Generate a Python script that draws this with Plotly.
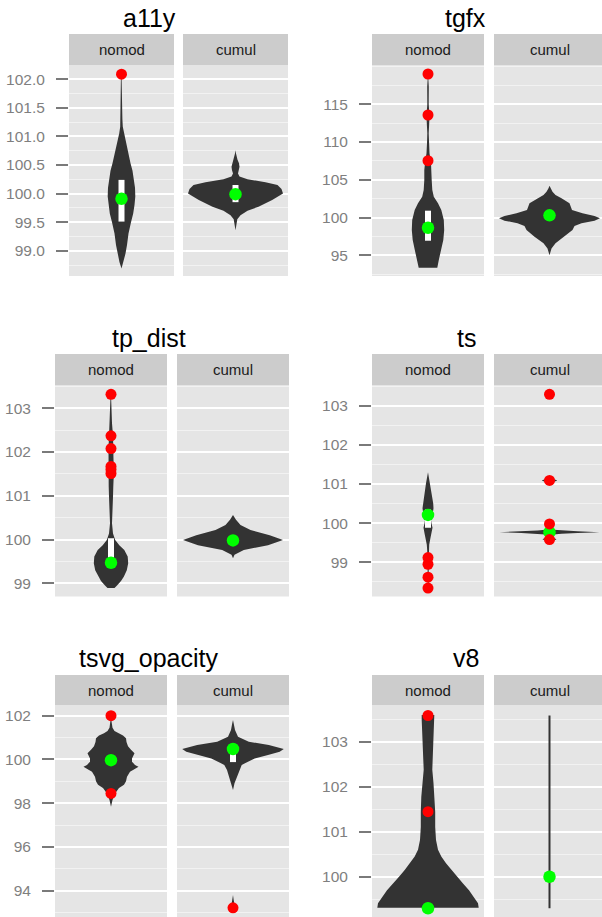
import plotly.graph_objects as go

W, H = 602, 917

# ------------------------------------------------------------------ data
charts = ["a11y", "tgfx", "tp_dist", "ts", "tsvg_opacity", "v8"]
facets = ["nomod", "cumul"]

# violin density profiles: y levels and half-width (density, panel units)
a11y_nomod_y = [98.69, 98.8, 98.95, 99.1, 99.3, 99.5, 99.65, 99.8, 99.95, 100.1, 100.24, 100.4,
                100.53, 100.7, 100.82, 100.95, 101.05, 101.17, 101.3, 101.6, 102.0, 102.09]
a11y_nomod_w = [0, 2, 4, 5.5, 7, 9.5, 11.7, 13, 13.8, 13.5, 12.5, 11,
                9, 7, 5.3, 3.5, 2.3, 1.3, 0.9, 0.7, 0.6, 0]
a11y_cumul_y = [99.36, 99.45, 99.55, 99.62, 99.7, 99.77, 99.89, 100.0, 100.08, 100.15, 100.2,
                100.25, 100.3, 100.35, 100.41, 100.47, 100.53, 100.59, 100.7, 100.76]
a11y_cumul_w = [0, 0.6, 1.8, 5, 12, 23, 36.7, 47.5, 46, 42, 30,
                12, 4, 2.5, 3.5, 4, 3.5, 2, 0.5, 0]

tgfx_nomod_y = [93.36, 93.36, 94.38, 95.7, 97.03, 98.35, 99.68, 101.0, 101.89, 102.77, 103.65,
                104.98, 106.3, 107.19, 108.5, 109.84, 111.16, 112.48, 113.5, 115.0, 117.33, 119.0]
tgfx_nomod_w = [0, 9.3, 10.8, 13.2, 15.3, 16.2, 15.8, 13.3, 10, 5.8, 4.3,
                3.7, 3.7, 3, 1.5, 1, 0.7, 1.2, 1.5, 0.7, 0.8, 0]
tgfx_cumul_y = [95.0, 95.3, 95.9, 96.6, 97.47, 98.35, 98.88, 99.23, 99.59, 99.9, 100.2, 100.56,
                101.0, 101.89, 102.55, 102.99, 103.4, 103.87, 104.2]
tgfx_cumul_w = [0, 0.5, 2, 6, 15, 23, 25, 32, 45, 50.5, 45, 33,
                22.5, 20, 12, 6, 3, 1, 0]

tp_dist_nomod_y = [98.89, 98.89, 98.95, 99.05, 99.15, 99.3, 99.46, 99.61, 99.76, 99.87, 99.99,
                   100.14, 100.37, 100.68, 100.98, 101.21, 101.4, 101.6, 101.82, 102.05, 102.37,
                   102.66, 102.96, 103.27, 103.32]
tp_dist_nomod_w = [0, 3.5, 6, 10, 12.8, 15.8, 17.2, 16.7, 13.3, 8.3, 4.2,
                   2, 1, 1.2, 2, 2.3, 2.8, 3, 2.5, 2.5, 2,
                   1, 0.8, 0.5, 0]
tp_dist_cumul_y = [99.57, 99.65, 99.76, 99.87, 99.99, 100.1, 100.22, 100.33, 100.45, 100.56]
tp_dist_cumul_w = [0, 1.5, 10.8, 35, 50, 36.7, 17.5, 7.5, 3, 0]

ts_nomod_y = [98.3, 98.5, 99.0, 99.3, 99.45, 99.6, 99.74, 99.88, 100.0, 100.08, 100.2, 100.38,
              100.51, 100.76, 101.02, 101.3]
ts_nomod_w = [0, 0.7, 0.7, 0.8, 1.2, 2.3, 3.5, 4.5, 3.5, 3, 4.5, 5.5,
              5.2, 3.5, 2, 0]
ts_cumul_y = [99.48, 99.55, 99.59, 99.63, 99.67, 99.71, 99.73, 99.75, 99.77, 99.79, 99.81, 99.83,
              99.86, 99.93, 99.97, 100.01, 100.08, 101.0, 101.05, 101.09, 101.13, 101.18,
              103.2, 103.29, 103.38]
ts_cumul_w = [0, 4, 7, 4, 1, 4, 12, 28, 50, 28, 12, 4,
              1, 0.5, 3, 0.5, 0, 0, 4, 7.8, 4, 0,
              0, 1.5, 0]

tsvg_opacity_nomod_y = [97.84, 98.15, 98.45, 98.7, 98.85, 99.0, 99.21, 99.44, 99.6, 99.67, 99.75,
                        99.9, 100.05, 100.28, 100.45, 100.6, 100.8, 100.97, 101.1, 101.2, 101.3,
                        101.45, 101.73, 101.88]
tsvg_opacity_nomod_w = [0, 1.5, 4, 8, 13, 15, 16, 19, 25, 27.5, 24,
                        21, 21, 23.5, 20, 17, 15.5, 15, 12, 7, 3.5,
                        1.5, 0.7, 0]
tsvg_opacity_cumul_y = [93.0, 93.1, 93.22, 93.4, 93.6, 93.8, 98.6, 98.91, 99.21, 99.52, 99.75,
                        99.9, 100.05, 100.2, 100.35, 100.48, 100.66, 100.81, 101.04, 101.35,
                        101.65, 101.8]
tsvg_opacity_cumul_w = [0, 1.5, 2, 1, 0.6, 0, 0, 1.5, 4, 6, 8.7,
                        15, 21.7, 35, 46.7, 50.8, 35.8, 15.8, 5, 2,
                        0.8, 0]

v8_nomod_y = [99.31, 99.31, 99.41, 99.55, 99.7, 99.85, 100.0, 100.15, 100.3, 100.45, 100.6,
              100.82, 101.11, 101.45, 101.78, 102.08, 102.38, 102.67, 102.97, 103.27, 103.49,
              103.6, 103.6]
v8_nomod_w = [0, 50.7, 50, 45.7, 41, 35, 29, 23.3, 18, 13.3, 10,
              8, 7.2, 7.2, 6.7, 5.5, 4.3, 4.7, 5.3, 5.8, 6.3,
              6.3, 0]
v8_cumul_y = [99.3, 103.59]
v8_cumul_w = [1, 1]

# medians (green), boxes (q1, q3), outliers (red)
medians = {
    "a11y": [99.91, 99.99], "tgfx": [98.65, 100.29], "tp_dist": [99.47, 99.98],
    "ts": [100.21, 99.77], "tsvg_opacity": [99.97, 100.48], "v8": [99.30, 100.0],
}
box_q1 = {
    "a11y": [99.51, 99.85], "tgfx": [96.93, None], "tp_dist": [99.35, None],
    "ts": [99.88, None], "tsvg_opacity": [None, 99.88], "v8": [None, None],
}
box_q3 = {
    "a11y": [100.24, 100.15], "tgfx": [100.91, None], "tp_dist": [100.03, None],
    "ts": [100.35, None], "tsvg_opacity": [None, 100.55], "v8": [None, None],
}
outliers_nomod = {
    "a11y": [102.09], "tgfx": [119.01, 113.58, 107.53],
    "tp_dist": [103.32, 102.37, 102.08, 101.67, 101.6, 101.51],
    "ts": [99.12, 98.95, 98.62, 98.34], "tsvg_opacity": [102.0, 98.45], "v8": [103.59, 101.45],
}
outliers_cumul = {
    "a11y": [], "tgfx": [], "tp_dist": [],
    "ts": [103.29, 101.09, 99.98, 99.58], "tsvg_opacity": [93.22], "v8": [],
}

y_ticks = {
    "a11y": [99.0, 99.5, 100.0, 100.5, 101.0, 101.5, 102.0],
    "tgfx": [95, 100, 105, 110, 115],
    "tp_dist": [99, 100, 101, 102, 103],
    "ts": [99, 100, 101, 102, 103],
    "tsvg_opacity": [94, 96, 98, 100, 102],
    "v8": [100, 101, 102, 103],
}
y_tick_text = {
    "a11y": ["99.0", "99.5", "100.0", "100.5", "101.0", "101.5", "102.0"],
    "tgfx": ["95", "100", "105", "110", "115"],
    "tp_dist": ["99", "100", "101", "102", "103"],
    "ts": ["99", "100", "101", "102", "103"],
    "tsvg_opacity": ["94", "96", "98", "100", "102"],
    "v8": ["100", "101", "102", "103"],
}

profiles = {
    ("a11y", 0): (a11y_nomod_y, a11y_nomod_w), ("a11y", 1): (a11y_cumul_y, a11y_cumul_w),
    ("tgfx", 0): (tgfx_nomod_y, tgfx_nomod_w), ("tgfx", 1): (tgfx_cumul_y, tgfx_cumul_w),
    ("tp_dist", 0): (tp_dist_nomod_y, tp_dist_nomod_w), ("tp_dist", 1): (tp_dist_cumul_y, tp_dist_cumul_w),
    ("ts", 0): (ts_nomod_y, ts_nomod_w), ("ts", 1): (ts_cumul_y, ts_cumul_w),
    ("tsvg_opacity", 0): (tsvg_opacity_nomod_y, tsvg_opacity_nomod_w),
    ("tsvg_opacity", 1): (tsvg_opacity_cumul_y, tsvg_opacity_cumul_w),
    ("v8", 0): (v8_nomod_y, v8_nomod_w), ("v8", 1): (v8_cumul_y, v8_cumul_w),
}

# ------------------------------------------------------------------ layout geometry (px)
y_ranges = {
    "a11y": [98.558, 102.25], "tgfx": [92.26, 120.2], "tp_dist": [98.698, 103.533],
    "ts": [98.126, 103.529], "tsvg_opacity": [92.80, 102.49], "v8": [99.105, 103.824],
}
minor_dtick = {"a11y": 0.25, "tgfx": 2.5, "tp_dist": 0.5, "ts": 0.5, "tsvg_opacity": 1, "v8": 0.5}
rows_px = [(34, 65, 276), (354, 385, 596.5), (675, 705, 917)]   # strip top, plot top, plot bottom
panel_cols = {
    "a11y": [(69, 105), (183, 105)],
    "tgfx": [(372, 112), (494, 111)],
    "tp_dist": [(55, 112), (177, 112)],
    "ts": [(372, 112), (494, 111)],
    "tsvg_opacity": [(55, 112), (177, 112)],
    "v8": [(372, 112), (494, 111)],
}
title_pos = {
    "a11y": (149, 18), "tgfx": (465, 18), "tp_dist": (149, 338),
    "ts": (466, 338), "tsvg_opacity": (148, 658), "v8": (466, 658),
}

FONT = "Liberation Sans, Arial, Helvetica, sans-serif"
VIOLIN = "#333333"
BOX_HALF = 3

fig = go.Figure()
layout = {}
shapes = []
annotations = []

k = 0
for ci, name in enumerate(charts):
    st, pt, pb = rows_px[ci // 2]
    tx, ty = title_pos[name]
    annotations.append(dict(text=name, x=tx / W, y=1 - ty / H, xref="paper", yref="paper",
                            xanchor="center", yanchor="middle", showarrow=False,
                            font=dict(family=FONT, size=25, color="#000000")))
    first_y = None
    for fi, facet in enumerate(facets):
        k += 1
        xa = "x" if k == 1 else f"x{k}"
        ya = "y" if k == 1 else f"y{k}"
        xkey = "xaxis" if k == 1 else f"xaxis{k}"
        ykey = "yaxis" if k == 1 else f"yaxis{k}"
        x0, wpx = panel_cols[name][fi]
        cx = x0 + wpx / 2
        x1 = min(x0 + wpx, W)
        layout[xkey] = dict(domain=[x0 / W, x1 / W], range=[x0 - cx, x1 - cx], visible=False,
                            anchor=ya, fixedrange=True)
        yax = dict(domain=[1 - pb / H, 1 - pt / H], range=y_ranges[name], anchor=xa,
                   tickmode="array", tickvals=y_ticks[name], ticktext=y_tick_text[name],
                   showgrid=True, gridcolor="#FFFFFF", gridwidth=1.8, zeroline=False,
                   showline=False,
                   minor=dict(tickmode="linear", tick0=0, dtick=minor_dtick[name], showgrid=True,
                              gridcolor="#F2F2F2", gridwidth=0.8, ticks=""),
                   fixedrange=True)
        if fi == 0:
            first_y = ya
            yax.update(ticks="outside", ticklen=12, tickwidth=2.2, tickcolor="#7A7A7A",
                       ticklabelstandoff=8,
                       tickfont=dict(family=FONT, size=15.5, color="#7F7F7F"))
        else:
            yax.update(matches=first_y, ticks="", showticklabels=False)
        layout[ykey] = yax

        # strip
        shapes.append(dict(type="rect", xref="paper", yref="paper", x0=x0 / W, x1=x1 / W,
                           y0=1 - pt / H, y1=1 - st / H, fillcolor="#CCCCCC",
                           line=dict(width=0), layer="below"))
        annotations.append(dict(text=facet, x=cx / W, y=1 - (st + pt) / 2 / H, xref="paper",
                                yref="paper", xanchor="center", yanchor="middle", showarrow=False,
                                font=dict(family=FONT, size=15, color="#1A1A1A")))

        # violin
        vy, vw = profiles[(name, fi)]
        xs = list(vw) + [-v for v in reversed(vw)]
        ys = list(vy) + list(reversed(vy))
        fig.add_trace(go.Scatter(x=xs, y=ys, mode="lines", fill="toself", fillcolor=VIOLIN,
                                 line=dict(width=0, color=VIOLIN), hoverinfo="skip",
                                 showlegend=False, xaxis=xa, yaxis=ya))
        # box
        q1 = box_q1[name][fi]
        q3 = box_q3[name][fi]
        if q1 is not None:
            fig.add_trace(go.Scatter(x=[-BOX_HALF, BOX_HALF, BOX_HALF, -BOX_HALF],
                                     y=[q1, q1, q3, q3], mode="lines", fill="toself",
                                     fillcolor="#FFFFFF", line=dict(width=0, color="#FFFFFF"),
                                     hoverinfo="skip", showlegend=False, xaxis=xa, yaxis=ya))
        # median
        med = medians[name][fi]
        fig.add_trace(go.Scatter(x=[0], y=[med], mode="markers",
                                 marker=dict(size=12.5, color="#00FF00", line=dict(width=0)),
                                 showlegend=False, cliponaxis=False, xaxis=xa, yaxis=ya))
        # outliers
        outs = outliers_nomod[name] if fi == 0 else outliers_cumul[name]
        if outs:
            fig.add_trace(go.Scatter(x=[0] * len(outs), y=outs, mode="markers",
                                     marker=dict(size=11, color="#FF0000", line=dict(width=0)),
                                     showlegend=False, cliponaxis=False, xaxis=xa, yaxis=ya))

fig.update_layout(
    width=W, height=H, autosize=False,
    margin=dict(l=0, r=0, t=0, b=0, pad=0),
    paper_bgcolor="#FFFFFF", plot_bgcolor="#E5E5E5",
    showlegend=False,
    shapes=shapes, annotations=annotations,
    font=dict(family=FONT),
    **layout,
)

fig.write_html(
    "out.html",
    config={"displayModeBar": False},
    post_script="document.body.style.margin='0';document.body.style.overflow='hidden';"
                "document.documentElement.style.overflow='hidden';",
)
